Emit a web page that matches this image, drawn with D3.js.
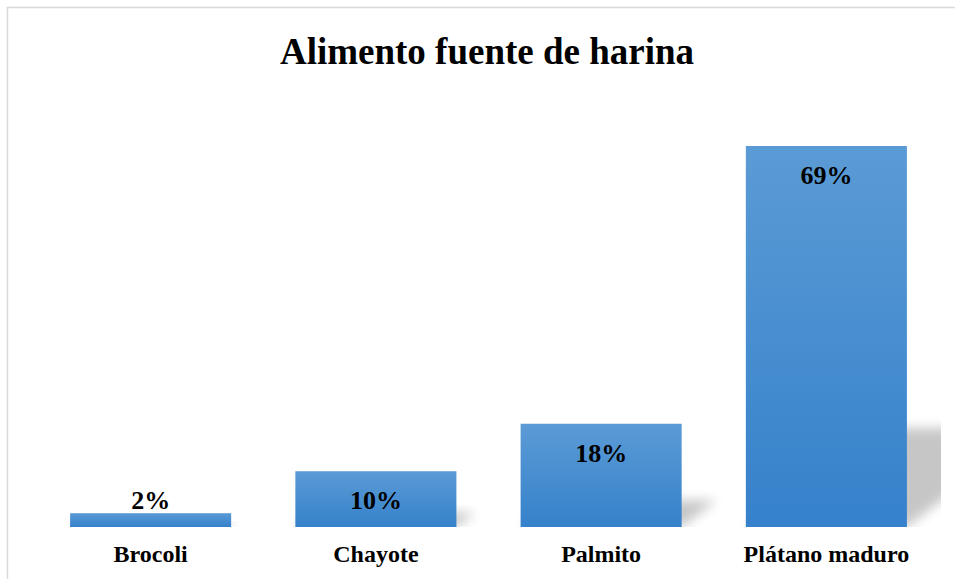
<!DOCTYPE html>
<meta charset="utf-8">
<title>Alimento fuente de harina</title>
<style>
body { margin: 0; background: #fff; }
text { font-family: "Liberation Serif", "Times New Roman", serif; font-weight: bold; fill: #000; }
</style>
<svg width="955" height="579"></svg>
<script src="https://d3js.org/d3.v7.min.js"></script>
<script>
// datos
var categorias = ["Brocoli", "Chayote", "Palmito", "Plátano maduro"]
var valores = [2.5, 10.1, 18.7, 69]
var etiquetas = ["2%", "10%", "18%", "69%"]

var svg = d3.select("svg"),
	width = +svg.attr("width"),
	height = +svg.attr("height")

var defs = svg.append("defs")

var grad = defs.append("linearGradient")
	.attr("id", "barGrad")
	.attr("x1", 0).attr("y1", 0).attr("x2", 0).attr("y2", 1)
grad.append("stop").attr("offset", "0%").attr("stop-color", "#5b9bd5")
grad.append("stop").attr("offset", "100%").attr("stop-color", "#3581cb")

defs.append("filter")
	.attr("id", "blur")
	.attr("x", "-50%").attr("y", "-50%").attr("width", "200%").attr("height", "200%")
	.append("feGaussianBlur").attr("stdDeviation", 6)

var x = d3.scaleBand()
	.domain(categorias)
	.range([38, 939])
	.paddingInner(0.285)
	.paddingOuter(0.1425)

var y = d3.scaleLinear()
	.domain([0, 80])
	.range([527, 527 - 381 * 80 / 69])

// borde del grafico
svg.append("rect")
	.attr("x", 7.5).attr("y", 7.5)
	.attr("width", 965).attr("height", 600)
	.attr("fill", "none")
	.attr("stroke", "#d9d9d9")
	.attr("stroke-width", 1.5)

svg.append("text")
	.attr("x", 487)
	.attr("y", 64)
	.attr("text-anchor", "middle")
	.style("font-size", "37px")
	.text("Alimento fuente de harina")

defs.append("clipPath").attr("id", "plotClip")
	.append("rect").attr("x", 38).attr("y", 60).attr("width", 903).attr("height", 467)

// sombras en perspectiva
svg.append("g")
	.attr("clip-path", "url(#plotClip)")
	.selectAll("path")
	.data(categorias)
	.enter().append("path")
		.attr("fill", "#000")
		.attr("opacity", 0.22)
		.attr("filter", "url(#blur)")
		.attr("d", function(d, i) {
			var x0 = x(d), x1 = x(d) + x.bandwidth()
			var b = y(0)
			var hs = (b - y(valores[i])) * 0.26
			var s = hs * 1.3
			return "M" + x0 + "," + b + "L" + x1 + "," + b +
				"L" + (x1 + s) + "," + (b - hs) + "L" + (x0 + s) + "," + (b - hs) + "Z"
		})

svg.append("g")
	.selectAll("rect")
	.data(categorias)
	.enter().append("rect")
		.attr("x", function(d) { return x(d) })
		.attr("y", function(d, i) { return y(valores[i]) })
		.attr("width", x.bandwidth())
		.attr("height", function(d, i) { return y(0) - y(valores[i]) })
		.attr("fill", "url(#barGrad)")

// etiquetas de datos: dentro del extremo, o encima si la barra es muy baja
svg.append("g")
	.selectAll("text")
	.data(categorias)
	.enter().append("text")
		.attr("x", function(d) { return x(d) + x.bandwidth() / 2 })
		.attr("y", function(d, i) {
			var h = y(0) - y(valores[i])
			return h > 40 ? y(valores[i]) + 38 : y(valores[i]) - 4
		})
		.attr("text-anchor", "middle")
		.style("font-size", "26px")
		.text(function(d, i) { return etiquetas[i] })

svg.append("g")
	.selectAll("text")
	.data(categorias)
	.enter().append("text")
		.attr("x", function(d) { return x(d) + x.bandwidth() / 2 })
		.attr("y", 562)
		.attr("text-anchor", "middle")
		.style("font-size", "24px")
		.text(function(d) { return d })
</script>
